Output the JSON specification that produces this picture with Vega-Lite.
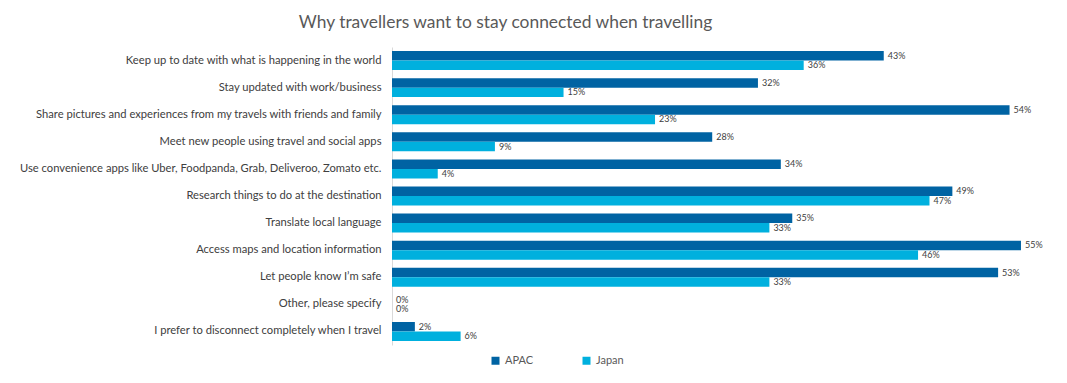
{
  "$schema": "https://vega.github.io/schema/vega-lite/v6.json",
  "autosize": {"type": "none"},
  "padding": {"left": 392, "top": 47, "right": 14, "bottom": 38},
  "width": 661,
  "height": 298,
  "background": "white",
  "title": {
    "text": "Why travellers want to stay connected when travelling",
    "font": "Lato",
    "fontSize": 17.4,
    "fontWeight": "normal",
    "color": "#595959",
    "anchor": "middle",
    "dx": -217,
    "offset": 16
  },
  "config": {
    "view": {"stroke": null},
    "font": "Lato"
  },
  "data": {
    "values": [
      {"reason": "Keep up to date with what is happening in the world", "region": "APAC", "value": 0.43},
      {"reason": "Keep up to date with what is happening in the world", "region": "Japan", "value": 0.36},
      {"reason": "Stay updated with work/business", "region": "APAC", "value": 0.32},
      {"reason": "Stay updated with work/business", "region": "Japan", "value": 0.15},
      {"reason": "Share pictures and experiences from my travels with friends and family", "region": "APAC", "value": 0.54},
      {"reason": "Share pictures and experiences from my travels with friends and family", "region": "Japan", "value": 0.23},
      {"reason": "Meet new people using travel and social apps", "region": "APAC", "value": 0.28},
      {"reason": "Meet new people using travel and social apps", "region": "Japan", "value": 0.09},
      {"reason": "Use convenience apps like Uber, Foodpanda, Grab, Deliveroo, Zomato etc.", "region": "APAC", "value": 0.34},
      {"reason": "Use convenience apps like Uber, Foodpanda, Grab, Deliveroo, Zomato etc.", "region": "Japan", "value": 0.04},
      {"reason": "Research things to do at the destination", "region": "APAC", "value": 0.49},
      {"reason": "Research things to do at the destination", "region": "Japan", "value": 0.47},
      {"reason": "Translate local language", "region": "APAC", "value": 0.35},
      {"reason": "Translate local language", "region": "Japan", "value": 0.33},
      {"reason": "Access maps and location information", "region": "APAC", "value": 0.55},
      {"reason": "Access maps and location information", "region": "Japan", "value": 0.46},
      {"reason": "Let people know I’m safe", "region": "APAC", "value": 0.53},
      {"reason": "Let people know I’m safe", "region": "Japan", "value": 0.33},
      {"reason": "Other, please specify", "region": "APAC", "value": 0.0},
      {"reason": "Other, please specify", "region": "Japan", "value": 0.0},
      {"reason": "I prefer to disconnect completely when I travel", "region": "APAC", "value": 0.02},
      {"reason": "I prefer to disconnect completely when I travel", "region": "Japan", "value": 0.06}
    ]
  },
  "encoding": {
    "y": {
      "field": "reason",
      "type": "nominal",
      "sort": null,
      "scale": {"paddingInner": 0.3, "paddingOuter": 0.15},
      "axis": {
        "title": null,
        "ticks": false,
        "domainColor": "#D9D9D9",
        "domainWidth": 1,
        "labelFont": "Lato",
        "labelFontSize": 11.2,
        "labelColor": "#404040",
        "labelPadding": 11,
        "labelLimit": 400
      }
    },
    "yOffset": {"field": "region", "type": "nominal", "sort": ["APAC", "Japan"], "scale": {"paddingInner": 0}},
    "x": {
      "field": "value",
      "type": "quantitative",
      "scale": {"domain": [0, 0.578]},
      "axis": null
    }
  },
  "layer": [
    {
      "mark": {"type": "bar"},
      "encoding": {
        "color": {
          "field": "region",
          "type": "nominal",
          "scale": {"domain": ["APAC", "Japan"], "range": ["#0063A3", "#00B0DE"]},
          "legend": {
            "title": null,
            "orient": "none",
            "legendX": 98,
            "legendY": 308,
            "direction": "horizontal",
            "symbolType": "square",
            "symbolSize": 64,
            "symbolStrokeWidth": 0,
            "labelFont": "Lato",
            "labelFontSize": 11,
            "labelColor": "#595959",
            "columnPadding": 47,
            "labelOffset": 4
          }
        }
      }
    },
    {
      "mark": {"type": "text", "align": "left", "baseline": "middle", "dx": 4, "fontSize": 9, "font": "Lato", "color": "#404040"},
      "encoding": {
        "text": {"field": "value", "type": "quantitative", "format": ".0%"}
      }
    }
  ]
}
